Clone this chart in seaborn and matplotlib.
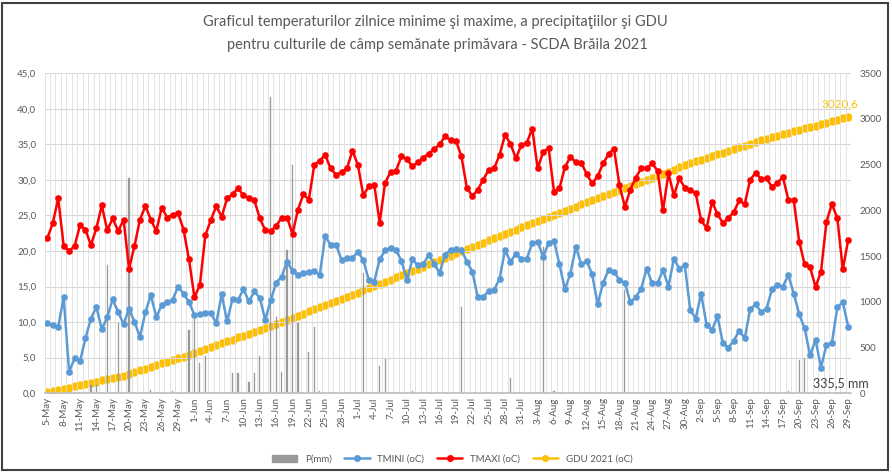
import numpy as np
import pandas as pd
import matplotlib
matplotlib.use("Agg")
import matplotlib.pyplot as plt
import seaborn as sns
from matplotlib.lines import Line2D
from matplotlib.patches import Patch, Rectangle

sns.set_theme(style="white")
plt.rcParams['font.family'] = ['Lato', 'DejaVu Sans']

# zile 5 mai - 29 septembrie 2021
dates = pd.date_range("2021-05-05", "2021-09-29", freq="D")

tmax = [21.8, 23.9, 27.4, 20.7, 20.0, 20.7, 23.6, 23.0, 20.8, 23.2,
        26.4, 22.9, 24.6, 22.8, 24.4, 17.5, 20.7, 24.4, 26.3, 24.4,
        22.8, 26.1, 24.7, 25.1, 25.3, 23.0, 18.8, 13.5, 15.2, 22.2,
        24.3, 26.3, 24.8, 27.4, 28.0, 28.8, 27.8, 27.5, 27.1, 24.6,
        22.9, 22.8, 23.5, 24.7, 24.7, 22.4, 25.8, 28.0, 27.2, 32.1,
        32.7, 33.5, 31.6, 30.7, 31.1, 31.6, 34.1, 32.1, 27.8, 29.1,
        29.3, 24.0, 29.6, 31.1, 31.3, 33.3, 32.9, 31.9, 32.5, 33.1,
        33.7, 34.3, 35.0, 36.1, 35.6, 35.5, 33.3, 28.9, 27.7, 28.6,
        30.0, 31.4, 31.6, 33.5, 36.3, 35.1, 33.0, 34.9, 35.2, 37.2,
        31.6, 33.9, 34.5, 28.3, 28.8, 31.8, 33.2, 32.5, 32.4, 30.8,
        29.5, 30.5, 32.3, 33.6, 34.4, 29.3, 26.2, 28.6, 30.3, 31.6,
        31.6, 32.3, 31.3, 25.7, 30.9, 27.8, 30.2, 28.9, 28.6, 28.1,
        24.3, 23.2, 26.9, 25.2, 23.9, 24.6, 25.5, 27.1, 26.6, 30.0,
        31.0, 30.1, 30.2, 29.0, 29.6, 30.4, 27.2, 27.1, 21.3, 18.1,
        17.7, 14.9, 17.1, 24.1, 26.6, 24.6, 17.4, 21.6]

tmin = [9.8, 9.6, 9.3, 13.5, 3.0, 4.9, 4.5, 7.7, 10.5, 12.1,
        9.0, 10.7, 13.2, 11.4, 9.7, 11.9, 10.0, 7.9, 11.4, 13.8,
        10.7, 12.4, 12.8, 13.1, 15.0, 14.0, 12.8, 11.0, 11.1, 11.3,
        11.3, 9.8, 13.9, 10.1, 13.3, 13.1, 14.6, 12.9, 14.3, 13.4,
        10.3, 13.1, 15.5, 16.4, 18.5, 17.2, 16.6, 16.9, 17.0, 17.2,
        16.6, 22.1, 20.8, 20.9, 18.7, 19.0, 19.0, 19.9, 18.7, 15.9,
        15.7, 18.8, 20.1, 20.4, 20.1, 18.6, 15.9, 18.8, 18.0, 18.1,
        19.5, 18.2, 16.9, 19.5, 20.1, 20.3, 20.2, 18.5, 17.1, 13.5,
        13.5, 14.4, 14.5, 16.1, 20.1, 18.5, 19.6, 18.8, 18.9, 21.1,
        21.3, 19.2, 21.1, 21.4, 18.1, 14.6, 16.8, 20.6, 18.1, 18.6,
        16.7, 12.5, 15.5, 17.3, 17.1, 15.9, 15.5, 12.8, 13.5, 14.7,
        17.5, 15.5, 15.5, 17.3, 15.0, 18.9, 17.5, 18.0, 11.7, 10.5,
        14.0, 9.6, 8.9, 10.8, 7.0, 6.4, 7.4, 8.8, 7.7, 11.8,
        12.5, 11.4, 11.9, 14.6, 15.2, 15.0, 16.6, 14.0, 11.1, 9.1,
        5.3, 7.5, 3.6, 6.8, 7.1, 12.1, 12.8, 9.3]

gdu = [10, 23, 36, 49, 62, 75, 88, 101, 114, 127,
       140, 153, 166, 179, 192, 211, 230, 249, 268, 287,
       306, 325, 344, 363, 382, 401, 420, 439, 458, 480,
       501, 523, 544, 566, 587, 609, 630, 652, 673, 695,
       716, 738, 759, 781, 802, 825, 848, 871, 894, 917,
       940, 963, 986, 1009, 1032, 1055, 1078, 1101, 1124, 1147,
       1171, 1195, 1219, 1242, 1266, 1290, 1314, 1338, 1361, 1385,
       1409, 1433, 1457, 1480, 1504, 1528, 1552, 1576, 1599, 1623,
       1647, 1671, 1695, 1718, 1742, 1766, 1790, 1814, 1837, 1861,
       1884, 1906, 1929, 1951, 1974, 1996, 2019, 2041, 2064, 2086,
       2109, 2131, 2154, 2176, 2199, 2221, 2244, 2266, 2289, 2311,
       2334, 2356, 2379, 2401, 2424, 2446, 2469, 2491, 2514, 2536,
       2555, 2574, 2593, 2612, 2631, 2650, 2669, 2688, 2707, 2726,
       2745, 2764, 2783, 2802, 2818, 2833, 2849, 2864, 2880, 2896,
       2911, 2927, 2942, 2958, 2974, 2989, 3005, 3020.6]

# zile cu precipitatii (index zi de la 5 mai) si cantitatea (mm)
rain_day = [8, 9, 11, 13, 15, 19, 23, 26, 27, 28, 29, 34, 35, 37, 38, 39,
            41, 42, 43, 44, 45, 46, 48, 49, 50, 58, 61, 62, 67, 76, 85,
            91, 93, 106, 136, 138, 139]
rain_mm = [1.1, 1.1, 18.0, 9.9, 30.2, 0.5, 0.3, 8.9, 10.5, 4.2, 5.2, 2.8, 2.8, 1.6, 2.8, 5.2,
           41.7, 10.7, 3.0, 20.1, 32.1, 9.8, 5.8, 9.3, 0.3, 16.9, 3.8, 4.8, 0.3, 12.1, 2.2,
           20.5, 0.3, 14.5, 0.3, 4.6, 4.9]

labels = [f"{d.day}-{d.strftime('%b')}" for d in dates]

df = pd.DataFrame({'zi': np.arange(len(dates)), 'TMINI': tmin, 'TMAXI': tmax, 'GDU': gdu})
precip = np.zeros(len(dates))
precip[rain_day] = rain_mm

C_RED = '#FF0000'
C_BLUE = '#5B9BD5'
C_GOLD = '#FFC000'
C_GRAY = '#999999'
C_TXT = '#595959'

fig = plt.figure(figsize=(8.92, 4.72), dpi=100)
ax = fig.add_axes([0.050, 0.167, 0.904, 0.678])
ax2 = ax.twinx()

# GDU pe axa secundara (in spate)
sns.lineplot(data=df, x='zi', y='GDU', ax=ax2, color=C_GOLD, lw=3.2,
             marker='o', markersize=6, markeredgewidth=0)

ax.bar(df['zi'], precip, width=0.22, color=C_GRAY, edgecolor=C_GRAY, lw=0.2, zorder=2)
sns.lineplot(data=df, x='zi', y='TMINI', ax=ax, color=C_BLUE, lw=1.8,
             marker='o', markersize=4.8, markeredgewidth=0, zorder=3)
sns.lineplot(data=df, x='zi', y='TMAXI', ax=ax, color=C_RED, lw=1.8,
             marker='o', markersize=4.8, markeredgewidth=0, zorder=4)

ax.set_zorder(ax2.get_zorder() + 1)
ax.patch.set_visible(False)

ax.set_xlim(-0.5, len(dates) - 0.5)
ax.set_ylim(0, 45)
ax2.set_ylim(0, 3500)

ax.set_yticks(np.arange(0, 46, 5))
ax.set_yticklabels([f"{v:.1f}".replace('.', ',') for v in np.arange(0, 46, 5)])
ax2.set_yticks(np.arange(0, 3501, 500))

ax.set_xticks(np.arange(0, len(dates), 3))
ax.set_xticklabels(labels[::3], rotation=90)
ax.set_xticks(np.arange(-0.5, len(dates), 1), minor=True)

ax.grid(axis='y', color='#D9D9D9', lw=0.8)
ax.grid(axis='x', which='minor', color='#DEDEDE', lw=0.6)
ax.set_axisbelow(True)

for a in (ax, ax2):
    for s in a.spines.values():
        s.set_visible(False)
    a.set_xlabel('')
    a.set_ylabel('')
ax.spines['bottom'].set_visible(True)
ax.spines['bottom'].set_color('#BFBFBF')

ax.tick_params(axis='x', which='both', length=0, labelsize=7, colors=C_TXT, pad=3)
ax.tick_params(axis='y', length=0, labelsize=7, colors=C_TXT, pad=6)
ax2.tick_params(axis='y', length=0, labelsize=7, colors=C_TXT, pad=6)

# etichete
ax2.text(148.9, 3162, "3020,6", ha='right', va='center', fontsize=8.5, color=C_GOLD)
ax.text(140.6, 1.4, "335,5 mm", ha='left', va='center', fontsize=9, color='#404040')

fig.text(0.488, 0.953, "Graficul temperaturilor zilnice minime şi maxime, a precipitaţiilor şi GDU",
         ha='center', va='center', fontsize=10.5, color=C_TXT)
fig.text(0.49, 0.905, "pentru culturile de câmp semănate primăvara - SCDA Brăila 2021",
         ha='center', va='center', fontsize=10.5, color=C_TXT)

handles = [Patch(color=C_GRAY),
           Line2D([], [], color=C_BLUE, lw=1.8, marker='o', markersize=4),
           Line2D([], [], color=C_RED, lw=1.8, marker='o', markersize=4),
           Line2D([], [], color=C_GOLD, lw=1.8, marker='o', markersize=4)]
fig.legend(handles, ["P(mm)", "TMINI (oC)", "TMAXI (oC)", "GDU 2021 (oC)"],
           loc='center', bbox_to_anchor=(0.507, 0.027), ncol=4, frameon=False,
           fontsize=7, handlelength=2.6, columnspacing=1.3, labelcolor=C_TXT)

# chenar
fig.add_artist(Rectangle((0.002, 0.004), 0.993, 0.99, transform=fig.transFigure,
                         fill=False, edgecolor='#404040', lw=1.5))

fig.savefig("out.png", dpi=100)
